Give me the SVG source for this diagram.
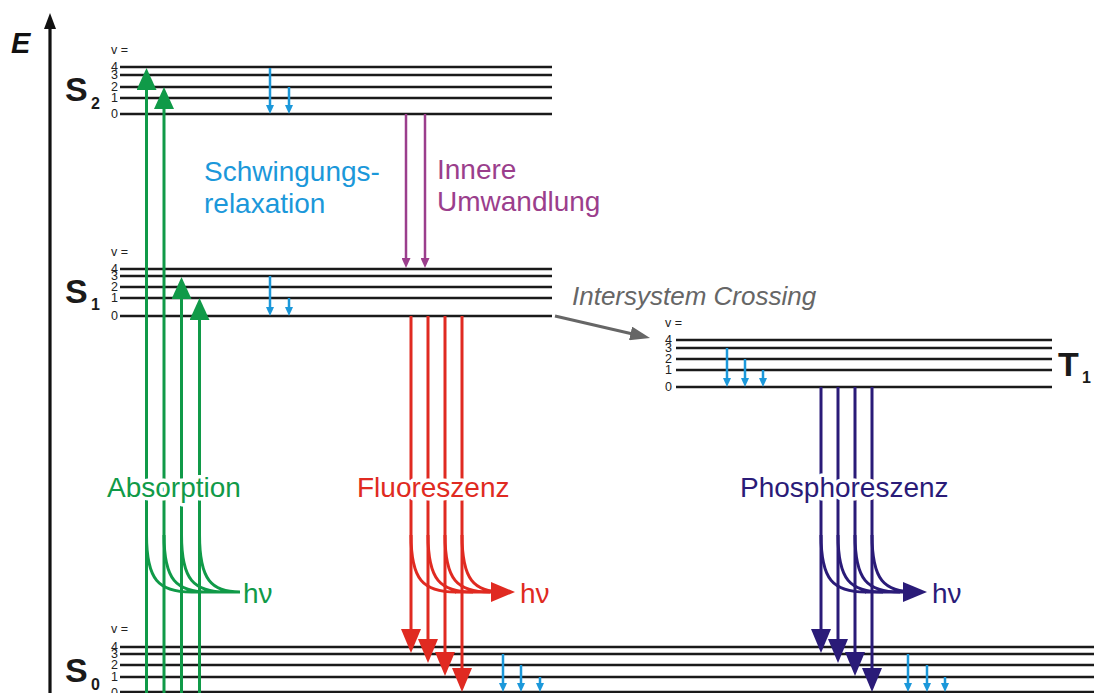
<svg xmlns="http://www.w3.org/2000/svg" width="1094" height="693" viewBox="0 0 1094 693">
<style>
.lv{stroke:#1a1a1a;stroke-width:2.4;fill:none}
.num{font-family:"Liberation Sans",Arial,sans-serif;font-size:12.5px;fill:#222}
.st{font-family:"Liberation Sans",Arial,sans-serif;font-weight:bold;fill:#1a1a1a}
.lab{font-family:"Liberation Sans",Arial,sans-serif;font-size:28px}
.halo{stroke:#fff;stroke-width:7;stroke-linejoin:round;paint-order:stroke}
.g{stroke:#109a48;stroke-width:3;fill:none}
.r{stroke:#e02a21;stroke-width:3;fill:none}
.p{stroke:#2a1b78;stroke-width:3;fill:none}
.b{stroke:#1b98da;stroke-width:2.5;fill:none}
.v{stroke:#9b3e8c;stroke-width:2.5;fill:none}
</style>
<defs>
<marker id="mg" markerUnits="userSpaceOnUse" viewBox="0 0 22 20" markerWidth="22" markerHeight="20" refX="11" refY="10" orient="auto"><path d="M0,0L22,10L0,20z" fill="#109a48"/></marker>
<marker id="mr" markerUnits="userSpaceOnUse" viewBox="0 0 24 20" markerWidth="24" markerHeight="20" refX="12" refY="10" orient="auto"><path d="M0,0L24,10L0,20z" fill="#e02a21"/></marker>
<marker id="mp" markerUnits="userSpaceOnUse" viewBox="0 0 24 20" markerWidth="24" markerHeight="20" refX="12" refY="10" orient="auto"><path d="M0,0L24,10L0,20z" fill="#2a1b78"/></marker>
<marker id="mb" markerUnits="userSpaceOnUse" viewBox="0 0 9 8" markerWidth="9" markerHeight="8" refX="4" refY="4" orient="auto"><path d="M0,0L9,4L0,8z" fill="#1b98da"/></marker>
<marker id="mv" markerUnits="userSpaceOnUse" viewBox="0 0 10 9" markerWidth="10" markerHeight="9" refX="5" refY="4.5" orient="auto"><path d="M0,0L10,4.5L0,9z" fill="#9b3e8c"/></marker>
<marker id="mi" markerUnits="userSpaceOnUse" viewBox="0 0 20 14" markerWidth="20" markerHeight="14" refX="10" refY="7" orient="auto"><path d="M0,0L20,7L0,14z" fill="#666"/></marker>
<marker id="mk" markerUnits="userSpaceOnUse" viewBox="0 0 16 12" markerWidth="16" markerHeight="12" refX="8" refY="6" orient="auto"><path d="M0,0L16,6L0,12z" fill="#111"/></marker>
</defs>
<rect width="1094" height="693" fill="#fff"/>

<g id="axis">
<line x1="50" y1="693" x2="50" y2="21" stroke="#111" stroke-width="3.2" marker-end="url(#mk)"/>
<text x="11" y="53" style="font-family:'Liberation Sans',Arial,sans-serif;font-size:29px;font-weight:bold;font-style:italic;fill:#111">E</text>
</g>

<g id="S2">
<path class="lv" d="M120,67H552M120,75H552M120,87H552M120,98H552M120,114H552"/>
<text class="num" x="111" y="54">v =</text>
<text class="num" x="111" y="71">4</text><text class="num" x="111" y="79">3</text><text class="num" x="111" y="91">2</text><text class="num" x="111" y="102">1</text><text class="num" x="111" y="118">0</text>
<text class="st" x="65" y="101" font-size="34">S</text><text class="st" x="91" y="109" font-size="16">2</text>
</g>

<g id="S1">
<path class="lv" d="M120,269H552M120,276H552M120,287H552M120,298H552M120,316H552"/>
<text class="num" x="111" y="256">v =</text>
<text class="num" x="111" y="273">4</text><text class="num" x="111" y="280">3</text><text class="num" x="111" y="291">2</text><text class="num" x="111" y="302">1</text><text class="num" x="111" y="320">0</text>
<text class="st" x="65" y="303" font-size="34">S</text><text class="st" x="91" y="310" font-size="16">1</text>
</g>

<g id="T1">
<path class="lv" d="M676,340H1052M676,348H1052M676,359H1052M676,370H1052M676,387H1052"/>
<text class="num" x="665" y="327">v =</text>
<text class="num" x="665" y="344">4</text><text class="num" x="665" y="352">3</text><text class="num" x="665" y="363">2</text><text class="num" x="665" y="374">1</text><text class="num" x="665" y="391">0</text>
<text class="st" x="1058" y="376" font-size="34">T</text><text class="st" x="1082" y="383" font-size="16">1</text>
</g>

<g id="S0">
<path class="lv" d="M120,647H1094M120,654H1094M120,665H1094M120,677H1094M120,692H1094"/>
<text class="num" x="111" y="633">v =</text>
<text class="num" x="111" y="651">4</text><text class="num" x="111" y="658">3</text><text class="num" x="111" y="669">2</text><text class="num" x="111" y="681">1</text><text class="num" x="111" y="697">0</text>
<text class="st" x="65" y="682" font-size="34">S</text><text class="st" x="91" y="690" font-size="16">0</text>
</g>

<g id="absorption">
<path class="g" d="M146.5,693V79" marker-end="url(#mg)"/>
<path class="g" d="M164,693V98" marker-end="url(#mg)"/>
<path class="g" d="M181.5,693V288" marker-end="url(#mg)"/>
<path class="g" d="M199.5,693V309" marker-end="url(#mg)"/>
<path class="g" d="M146.5,535C146.5,580 158.5,592 191.5,592M164,535C164,580 176,592 209,592M181.5,535C181.5,580 193.5,592 226.5,592M199.5,535C199.5,580 211.5,592 240,592M190,592H240"/>
<text class="lab halo" x="107" y="497" fill="#109a48">Absorption</text>
<text class="lab" x="243" y="603" fill="#109a48">hν</text>
</g>

<g id="fluorescence">
<path class="r" d="M411,316V641" marker-end="url(#mr)"/>
<path class="r" d="M428,316V651" marker-end="url(#mr)"/>
<path class="r" d="M445,316V664" marker-end="url(#mr)"/>
<path class="r" d="M462,316V680" marker-end="url(#mr)"/>
<path class="r" d="M411,535C411,580 423,592 456,592M428,535C428,580 440,592 473,592M445,535C445,580 457,592 490,592M462,535C462,580 474,592 503,592"/>
<path class="r" d="M455,592H503" marker-end="url(#mr)"/>
<text class="lab halo" x="357" y="497" fill="#e02a21">Fluoreszenz</text>
<text class="lab" x="520" y="603" fill="#e02a21">hν</text>
</g>

<g id="phosphorescence">
<path class="p" d="M821,387V641" marker-end="url(#mp)"/>
<path class="p" d="M838,387V651" marker-end="url(#mp)"/>
<path class="p" d="M855,387V664" marker-end="url(#mp)"/>
<path class="p" d="M872,387V680" marker-end="url(#mp)"/>
<path class="p" d="M821,535C821,580 833,592 866,592M838,535C838,580 850,592 883,592M855,535C855,580 867,592 900,592M872,535C872,580 884,592 915,592"/>
<path class="p" d="M865,592H915" marker-end="url(#mp)"/>
<text class="lab halo" x="740" y="497" fill="#2a1b78">Phosphoreszenz</text>
<text class="lab" x="932" y="603" fill="#2a1b78">hν</text>
</g>

<g id="vibrational-relaxation">
<path class="b" d="M270,68V109" marker-end="url(#mb)"/>
<path class="b" d="M289,87V109" marker-end="url(#mb)"/>
<path class="b" d="M270,276V311" marker-end="url(#mb)"/>
<path class="b" d="M289,298V311" marker-end="url(#mb)"/>
<path class="b" d="M727,348V382" marker-end="url(#mb)"/>
<path class="b" d="M745,359V382" marker-end="url(#mb)"/>
<path class="b" d="M763,370V382" marker-end="url(#mb)"/>
<path class="b" d="M503,654V687" marker-end="url(#mb)"/>
<path class="b" d="M521,665V687" marker-end="url(#mb)"/>
<path class="b" d="M540,677V687" marker-end="url(#mb)"/>
<path class="b" d="M908,654V687" marker-end="url(#mb)"/>
<path class="b" d="M927,665V687" marker-end="url(#mb)"/>
<path class="b" d="M945,677V687" marker-end="url(#mb)"/>
<text class="lab" x="204" y="181" fill="#1b98da">Schwingungs-</text>
<text class="lab" x="204" y="213" fill="#1b98da">relaxation</text>
</g>

<g id="internal-conversion">
<path class="v" d="M406,114V263" marker-end="url(#mv)"/>
<path class="v" d="M425,114V263" marker-end="url(#mv)"/>
<text class="lab" x="437" y="179" fill="#9b3e8c">Innere</text>
<text class="lab" x="437" y="211" fill="#9b3e8c">Umwandlung</text>
</g>

<g id="isc">
<path d="M555,316L640.3,335.7" stroke="#666" stroke-width="3" fill="none" marker-end="url(#mi)"/>
<text x="572" y="305" style="font-family:'Liberation Sans',Arial,sans-serif;font-size:26px;font-style:italic;fill:#666">Intersystem Crossing</text>
</g>
</svg>
